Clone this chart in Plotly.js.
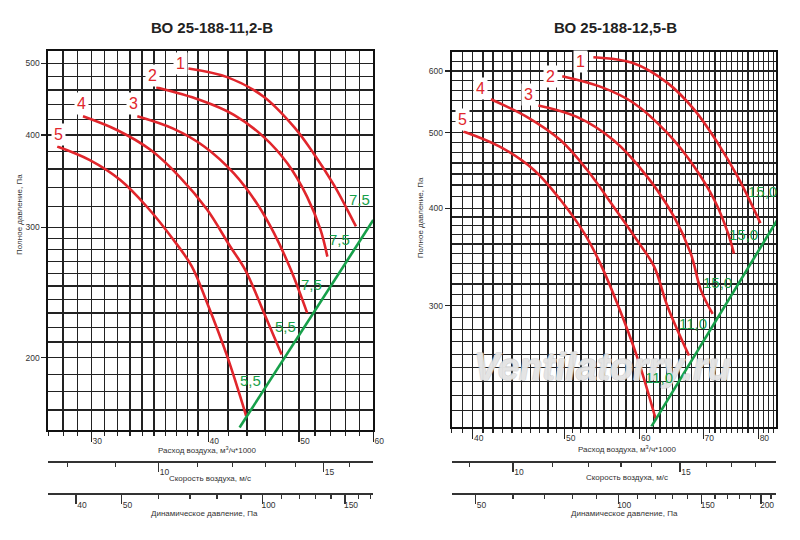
<!DOCTYPE html>
<html>
<head>
<meta charset="utf-8">
<script src="https://cdn.plot.ly/plotly-3.0.1.min.js"></script>
<style>html,body{margin:0;padding:0;background:#fff}#plot{width:800px;height:540px}</style>
</head>
<body>
<div id="plot"></div>
<script>
// left chart: ВО 25-188-11,2-В  (flow, 1000 m3/h / total pressure, Pa)
var flowL1 = [38.1, 41.9, 45.8, 49.4, 51.8, 54.5, 56.3, 57.5];
var presL1 = [492, 479, 451, 410, 378, 342, 317, 301];
var flowL2 = [35.2, 39.2, 42.6, 45.8, 48.6, 51.0, 52.7, 53.6];
var presL2 = [464, 446, 426, 398, 366, 330, 298, 274];
var flowL3 = [33.6, 36.7, 39.6, 42.6, 45.1, 47.0, 49.0, 51.0];
var presL3 = [424, 408, 386, 355, 323, 295, 263, 230];
var flowL4 = [29.4, 32.0, 34.7, 37.3, 39.9, 42.2, 43.8, 45.8, 47.9];
var presL4 = [424, 406, 382, 351, 317, 283, 263, 231, 202];
var flowL5 = [27.6, 29.9, 32.2, 34.4, 36.7, 38.4, 39.9, 41.9, 43.9];
var presL5 = [386, 370, 348, 320, 289, 266, 237, 201, 167];
var limitFlowL = [43.2, 60.0];
var limitPresL = [161, 307];
var powerL = ['7,5', '7,5', '7,5', '5,5', '5,5'];

// right chart: ВО 25-188-12,5-В
var flowR1 = [53.6, 59.1, 64.2, 68.5, 72.5, 76.1, 78.6, 80.4];
var presR1 = [625, 614, 579, 535, 485, 439, 406, 383];
var flowR2 = [49.7, 54.5, 59.1, 64.2, 68.5, 71.9, 74.3, 75.4];
var presR2 = [591, 573, 546, 499, 452, 410, 372, 350];
var flowR3 = [46.9, 51.5, 56.3, 61.1, 65.2, 67.9, 69.6, 71.6];
var presR3 = [542, 524, 489, 439, 390, 350, 314, 293];
var flowR4 = [41.8, 45.6, 49.5, 52.8, 56.3, 59.6, 62.1, 64.2, 67.6];
var presR4 = [552, 524, 489, 448, 402, 364, 337, 299, 259];
var flowR5 = [39.1, 42.7, 46.4, 49.5, 52.4, 54.5, 56.8, 59.6, 62.4];
var presR5 = [502, 480, 448, 410, 372, 340, 302, 258, 214];
var limitFlowR = [61.7, 83.7];
var limitPresR = [210, 386];
var powerR = ['15,0', '15,0', '15,0', '11,0', '11,0'];

var curveNames = ['1', '2', '3', '4', '5'];
var titles = ['ВО 25-188-11,2-В', 'ВО 25-188-12,5-В'];

// tick labels
var flowTicksL = [30, 40, 50, 60];
var flowTicksR = [40, 50, 60, 70, 80];
var presTicksL = [200, 300, 400, 500];
var presTicksR = [300, 400, 500, 600];
var velTicksL = [8, 9, 10, 11, 12, 13, 14, 15, 16];
var velTicksR = [9, 10, 11, 12, 13, 14, 15, 16, 17, 18];
var velLabels = [10, 15];
var dynTicksL = [40, 50, 60, 70, 80, 90, 100, 110, 120, 130, 140, 150, 160, 170];
var dynTicksR = [50, 60, 70, 80, 90, 100, 110, 120, 130, 140, 150, 160, 170, 180, 190, 200, 210];
var dynLabelsL = [40, 50, 100, 150];
var dynLabelsR = [50, 100, 150, 200];

// flow (1000 m3/h) per 1 m/s of outlet velocity, and q = 0.6 * v^2
var flowPerVel = [3.54, 4.41];
var dynFactor = 0.6;

var FONT = 'Liberation Sans Narrow, Arial Narrow, Liberation Sans, Arial, sans-serif';
var RED = '#e1262c';
var GREEN = '#17a04a';
var GRID = '#222';

function steps(a, b, n) {
    var out = [];
    for (var i = 0; i <= n; i++) out.push(a + (b - a) * i / n);
    return out;
}

var gridXL = steps(27, 40, 13).concat(steps(42, 60, 9));
var gridYL = steps(160, 300, 14).concat(steps(320, 520, 10));
var gridXR = steps(38, 83, 45);
var gridYR = steps(210, 400, 19).concat(steps(400, 500, 7), steps(500, 600, 6), steps(600, 634, 2));

var rangeL = [27, 60];
var rangeR = [38, 83.5];

var curvesL = [[flowL1, presL1], [flowL2, presL2], [flowL3, presL3], [flowL4, presL4], [flowL5, presL5]];
var curvesR = [[flowR1, presR1], [flowR2, presR2], [flowR3, presR3], [flowR4, presR4], [flowR5, presR5]];

var data = [];
function addCurves(curves, limF, limP, xa, ya) {
    for (var i = 0; i < curves.length; i++) {
        data.push({x: curves[i][0], y: curves[i][1], xaxis: xa, yaxis: ya, type: 'scatter', mode: 'lines',
            line: {color: RED, width: 2.6, shape: 'spline', smoothing: 1}, hoverinfo: 'skip'});
    }
    data.push({x: limF, y: limP, xaxis: xa, yaxis: ya, type: 'scatter', mode: 'lines',
        line: {color: GREEN, width: 2.6}, hoverinfo: 'skip'});
}
addCurves(curvesL, limitFlowL, limitPresL, 'x', 'y');
addCurves(curvesR, limitFlowR, limitPresR, 'x2', 'y2');
// empty traces so the extra scales get drawn
[['x3', 'y'], ['x4', 'y'], ['x5', 'y2'], ['x6', 'y2']].forEach(function (p) {
    data.push({x: [], y: [], xaxis: p[0], yaxis: p[1], type: 'scatter', hoverinfo: 'skip'});
});

var tickFont = {family: FONT, size: 8.5, color: '#333'};

function mainX(domain, range, ticks, grid, anchor) {
    return {
        domain: domain, anchor: anchor, type: 'log',
        range: [Math.log10(range[0]), Math.log10(range[1])],
        tickmode: 'array', tickvals: ticks, ticktext: ticks.map(String),
        ticks: 'outside', ticklen: 10, tickwidth: 1.3, tickcolor: GRID,
        showgrid: true, gridcolor: GRID, gridwidth: 1.3,
        showline: true, mirror: true, linecolor: '#111', linewidth: 2,
        tickfont: tickFont, ticklabelshift: 6, ticklabelstandoff: -8,
        minor: {tickmode: 'array', tickvals: grid, showgrid: true, gridcolor: GRID, gridwidth: 1.3,
            ticks: 'outside', ticklen: 4, tickwidth: 1.2, tickcolor: GRID},
        fixedrange: true
    };
}
function mainY(domain, range, ticks, grid, anchor) {
    return {
        domain: domain, anchor: anchor, type: 'log',
        range: [Math.log10(range[0]), Math.log10(range[1])],
        tickmode: 'array', tickvals: ticks, ticktext: ticks.map(String),
        ticks: 'outside', ticklen: 5, tickwidth: 1.3, tickcolor: GRID,
        showgrid: true, gridcolor: GRID, gridwidth: 1.3,
        showline: true, mirror: true, linecolor: '#111', linewidth: 2,
        tickfont: tickFont,
        minor: {tickmode: 'array', tickvals: grid, showgrid: true, gridcolor: GRID, gridwidth: 1.3, ticks: ''},
        fixedrange: true
    };
}
function scaleX(over, pos, range, allTicks, labels) {
    return {
        overlaying: over, anchor: 'free', position: pos, side: 'bottom', type: 'log',
        range: [Math.log10(range[0]), Math.log10(range[1])],
        tickmode: 'array', tickvals: labels, ticktext: labels.map(String),
        ticks: 'outside', ticklen: 9, tickwidth: 1.3, tickcolor: '#333',
        showgrid: false, showline: true, linecolor: '#333', linewidth: 2,
        tickfont: tickFont, ticklabelshift: 6, ticklabelstandoff: -7,
        minor: {tickmode: 'array', tickvals: allTicks, ticks: 'outside', ticklen: 4, tickwidth: 1.2,
            tickcolor: '#333', showgrid: false},
        fixedrange: true
    };
}
function velRange(range, k) { return [range[0] / k, range[1] / k]; }
function dynRange(range, k) {
    return [dynFactor * Math.pow(range[0] / k, 2), dynFactor * Math.pow(range[1] / k, 2)];
}

var annotations = [];

// watermark first, so labels sit on top of it
annotations.push({text: 'Ventilatorry.ru', xref: 'paper', yref: 'paper', x: 0.7525, y: 0.3204,
    xanchor: 'center', yanchor: 'middle', showarrow: false,
    font: {family: 'Liberation Sans, Arial, sans-serif', size: 38, color: 'rgba(255,255,255,0.55)',
        style: 'italic', weight: 'bold',
        shadow: '1px 0 0 #c4c4c4, -1px 0 0 #c4c4c4, 0 1px 0 #c4c4c4, 0 -1px 0 #c4c4c4'}});

function note(text, x, y, size, extra) {
    var a = {text: text, xref: 'paper', yref: 'paper', x: x, y: y, xanchor: 'center', yanchor: 'middle',
        showarrow: false, font: {family: FONT, size: size, color: '#333'}};
    for (var k in extra) a[k] = extra[k];
    annotations.push(a);
}

// titles and axis names
note(titles[0], 0.265, 0.95, 15, {font: {family: FONT, size: 15, color: '#222', weight: 'bold'}});
note(titles[1], 0.769, 0.95, 15, {font: {family: FONT, size: 15, color: '#222', weight: 'bold'}});
[[0.025, 0.602], [0.525, 0.596]].forEach(function (p) {
    note('Полное давление, Па', p[0], p[1], 8, {textangle: -90});
});
[[0.259, 0.166], [0.784, 0.168]].forEach(function (p) {
    note('Расход воздуха, м<sup>3</sup>/ч*1000', p[0], p[1], 8, {});
});
[[0.262, 0.113], [0.784, 0.115]].forEach(function (p) {
    note('Скорость воздуха, м/с', p[0], p[1], 8, {});
});
[[0.256, 0.05], [0.781, 0.05]].forEach(function (p) {
    note('Динамическое давление, Па', p[0], p[1], 8, {});
});

// curve numbers at curve starts, motor power at curve ends
var numShiftL = [[-8, 5], [-4, 12], [-4, 13], [-1, 13], [1, 12]];
var numShiftR = [[-13, -4], [-12, 0], [-10, 11], [-10, 11], [-1, 12]];
var powShiftL = [[4, 27], [12, 17], [4, 28], [4, 28], [4, 35]];
var powShiftR = [[2, 32], [10, 19], [5, 31], [4, 32], [3, 43]];
function curveLabels(curves, powers, numShift, powShift, xa, ya) {
    for (var i = 0; i < curves.length; i++) {
        var fx = curves[i][0], py = curves[i][1], n = fx.length - 1;
        annotations.push({text: curveNames[i], xref: xa, yref: ya,
            x: Math.log10(fx[0]), y: Math.log10(py[0]), xshift: numShift[i][0], yshift: numShift[i][1],
            xanchor: 'center', yanchor: 'middle',
            showarrow: false, bgcolor: '#fff', borderpad: 2,
            font: {family: FONT, size: 16, color: RED}});
        annotations.push({text: powers[i], xref: xa, yref: ya,
            x: Math.log10(fx[n]), y: Math.log10(py[n]), xshift: powShift[i][0], yshift: powShift[i][1],
            xanchor: 'center', yanchor: 'middle',
            showarrow: false, font: {family: FONT, size: 15, color: GREEN}});
    }
}
curveLabels(curvesL, powerL, numShiftL, powShiftL, 'x', 'y');
curveLabels(curvesR, powerR, numShiftR, powShiftR, 'x2', 'y2');

var layout = {
    width: 800, height: 540,
    margin: {l: 0, r: 0, t: 0, b: 0},
    paper_bgcolor: '#fff', plot_bgcolor: '#fff',
    showlegend: false,
    xaxis: mainX([0.0604, 0.4666], rangeL, flowTicksL, gridXL, 'y'),
    yaxis: mainY([0.2046, 0.9061], [160, 520], presTicksL, gridYL, 'x'),
    xaxis2: mainX([0.5646, 0.97], rangeR, flowTicksR, gridXR, 'y2'),
    yaxis2: mainY([0.21, 0.904], [210, 635], presTicksR, gridYR, 'x2'),
    xaxis3: scaleX('x', 0.145, velRange(rangeL, flowPerVel[0]), velTicksL, velLabels),
    xaxis4: scaleX('x', 0.0846, dynRange(rangeL, flowPerVel[0]), dynTicksL, dynLabelsL),
    xaxis5: scaleX('x2', 0.145, velRange(rangeR, flowPerVel[1]), velTicksR, velLabels),
    xaxis6: scaleX('x2', 0.0846, dynRange(rangeR, flowPerVel[1]), dynTicksR, dynLabelsR),
    annotations: annotations
};

Plotly.newPlot('plot', data, layout, {staticPlot: true});
</script>
</body>
</html>
